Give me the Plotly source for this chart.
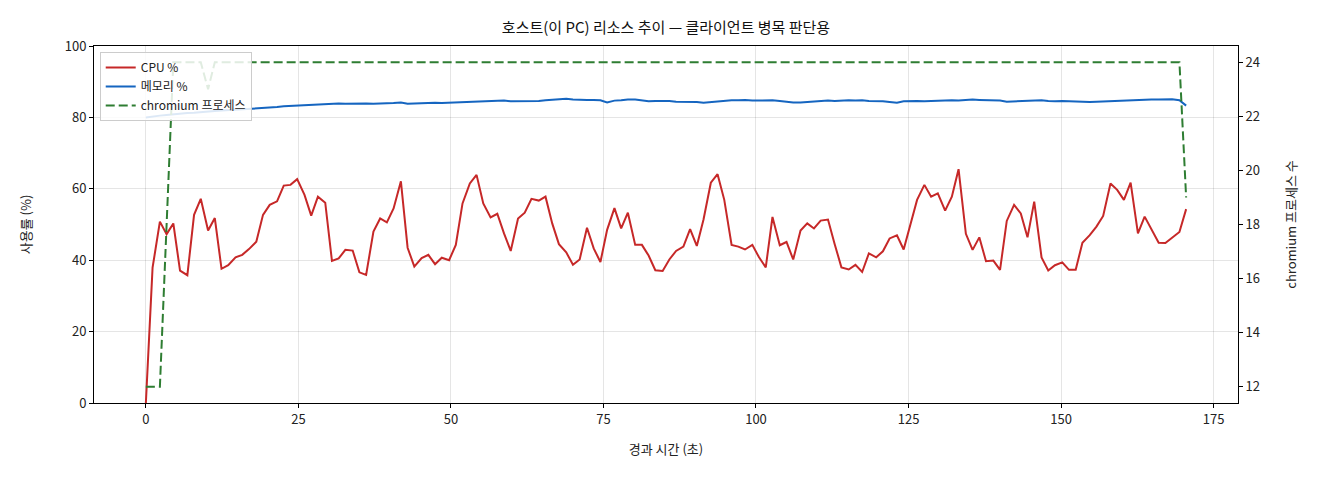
import plotly.graph_objects as go

# elapsed seconds for each sample
t = [0.0, 1.1, 2.3, 3.4, 4.5, 5.6, 6.8, 7.9, 9.0, 10.2, 11.3, 12.4, 13.5, 14.7, 15.8, 16.9,
     18.1, 19.2, 20.3, 21.5, 22.6, 23.7, 24.8, 26.0, 27.1, 28.2, 29.4, 30.5, 31.6, 32.7, 33.9,
     35.0, 36.1, 37.3, 38.4, 39.5, 40.6, 41.8, 42.9, 44.0, 45.2, 46.3, 47.4, 48.5, 49.7, 50.8,
     51.9, 53.1, 54.2, 55.3, 56.5, 57.6, 58.7, 59.8, 61.0, 62.1, 63.2, 64.4, 65.5, 66.6, 67.7,
     68.9, 70.0, 71.1, 72.3, 73.4, 74.5, 75.6, 76.8, 77.9, 79.0, 80.2, 81.3, 82.4, 83.5, 84.7,
     85.8, 86.9, 88.1, 89.2, 90.3, 91.4, 92.6, 93.7, 94.8, 96.0, 97.1, 98.2, 99.4, 100.5, 101.6,
     102.7, 103.9, 105.0, 106.1, 107.3, 108.4, 109.5, 110.6, 111.8, 112.9, 114.0, 115.2, 116.3,
     117.4, 118.5, 119.7, 120.8, 121.9, 123.1, 124.2, 125.3, 126.4, 127.6, 128.7, 129.8, 131.0,
     132.1, 133.2, 134.4, 135.5, 136.6, 137.7, 138.9, 140.0, 141.1, 142.3, 143.4, 144.5, 145.6,
     146.8, 147.9, 149.0, 150.2, 151.3, 152.4, 153.5, 154.7, 155.8, 156.9, 158.1, 159.2, 160.3,
     161.4, 162.6, 163.7, 164.8, 166.0, 167.1, 168.2, 169.4, 170.5]

cpu = [0.0, 37.9, 50.8, 47.3, 50.3, 37.1, 35.8, 52.7, 57.2, 48.3, 51.8, 37.6, 38.6, 40.8, 41.5,
       43.1, 45.2, 52.7, 55.5, 56.5, 60.9, 61.1, 62.7, 58.3, 52.5, 57.8, 56.1, 39.8, 40.5, 42.9,
       42.7, 36.6, 35.9, 48.0, 51.7, 50.6, 54.5, 62.1, 43.5, 38.2, 40.6, 41.5, 38.9, 40.7, 40.0,
       44.3, 55.9, 61.5, 63.9, 55.9, 52.0, 53.0, 47.5, 42.6, 51.7, 53.3, 57.2, 56.7, 57.8, 50.3,
       44.5, 42.2, 38.7, 40.2, 49.1, 43.3, 39.5, 48.5, 54.6, 48.9, 53.3, 44.3, 44.3, 41.3, 37.2,
       37.0, 40.2, 42.6, 43.8, 48.7, 44.0, 51.4, 61.7, 64.1, 56.9, 44.3, 43.8, 43.0, 44.3, 40.8,
       38.0, 52.1, 44.2, 45.1, 40.2, 48.3, 50.3, 48.9, 51.1, 51.4, 44.5, 38.0, 37.4, 38.7, 36.7,
       41.9, 40.8, 42.5, 46.1, 47.0, 43.0, 49.8, 56.9, 61.1, 57.8, 58.7, 53.9, 57.8, 65.5, 47.4,
       42.9, 46.4, 39.7, 39.9, 37.3, 51.0, 55.5, 53.1, 46.4, 56.4, 40.8, 37.1, 38.6, 39.4, 37.3,
       37.3, 44.9, 47.0, 49.4, 52.4, 61.5, 59.7, 56.9, 61.7, 47.5, 52.2, 48.9, 44.9, 44.8, 46.4,
       47.9, 54.3]

mem = [80.0, 80.3, 80.5, 80.7, 80.9, 81.0, 81.2, 81.3, 81.5, 81.6, 81.8, 81.9, 82.0, 82.1, 82.2,
       82.3, 82.4, 82.5, 82.7, 82.9, 83.1, 83.2, 83.4, 83.6, 83.6, 83.7, 83.8, 83.9, 83.9, 83.8,
       83.9, 83.8, 83.9, 83.8, 83.8, 83.9, 84.0, 84.2, 83.8, 83.9, 84.0, 84.1, 84.1, 84.0, 84.1,
       84.2, 84.3, 84.4, 84.4, 84.5, 84.5, 84.6, 84.7, 84.5, 84.5, 84.5, 84.4, 84.6, 84.8, 84.9,
       85.1, 85.2, 85.0, 84.9, 84.9, 84.9, 84.8, 84.2, 84.7, 84.8, 85.0, 85.0, 84.8, 84.5, 84.6,
       84.7, 84.6, 84.4, 84.4, 84.5, 84.3, 84.1, 84.3, 84.6, 84.8, 84.8, 84.8, 84.9, 84.7, 84.8,
       84.9, 84.8, 84.6, 84.4, 84.2, 84.2, 84.3, 84.6, 84.6, 84.7, 84.6, 84.7, 84.8, 84.7, 84.8,
       84.6, 84.6, 84.5, 84.3, 84.1, 84.5, 84.6, 84.6, 84.5, 84.6, 84.5, 84.7, 84.8, 84.7, 84.9,
       85.0, 84.9, 84.9, 84.9, 84.7, 84.4, 84.5, 84.6, 84.7, 84.8, 84.8, 84.6, 84.5, 84.6, 84.5,
       84.4, 84.4, 84.3, 84.4, 84.5, 84.4, 84.5, 84.7, 84.9, 85.0, 85.0, 85.0, 85.0, 85.0, 85.1,
       84.8, 83.3]

chromium = [12, 12, 12, 18, 24, 24, 24, 24, 24, 23] + [24] * 141 + [19]

x_ticks = [0, 25, 50, 75, 100, 125, 150, 175]
y_ticks = [0, 20, 40, 60, 80, 100]
y2_ticks = [12, 14, 16, 18, 20, 22, 24]

FONT = "Noto Sans CJK KR"

fig = go.Figure()
fig.add_trace(go.Scatter(x=t, y=cpu, mode="lines", name="CPU %",
                         line=dict(color="#c62828", width=2)))
fig.add_trace(go.Scatter(x=t, y=mem, mode="lines", name="메모리 %",
                         line=dict(color="#1565c0", width=2)))
fig.add_trace(go.Scatter(x=t, y=chromium, mode="lines", name="chromium 프로세스",
                         line=dict(color="#2e7d32", width=2, dash="9px,4px"), yaxis="y2"))

def axis_style(**extra):
    d = dict(showline=True, linecolor="black", linewidth=1,
             ticks="outside", ticklen=4, tickcolor="black", automargin=False,
             tickfont=dict(size=13, color="#222", family=FONT), zeroline=False)
    d.update(extra)
    return d

fig.update_layout(
    width=1320, height=480,
    margin=dict(l=86, r=90, t=38, b=85),
    paper_bgcolor="white", plot_bgcolor="white",
    font=dict(family=FONT, color="#222"),
    title=dict(text="호스트(이 PC) 리소스 추이 — 클라이언트 병목 판단용",
               x=0.5, xanchor="center", y=0.958, yanchor="middle",
               xref="paper", font=dict(size=15, family=FONT, color="#111")),
    xaxis=axis_style(range=[-8.5, 179], tickvals=x_ticks, showgrid=True,
                     gridcolor="rgba(0,0,0,0.1)", gridwidth=1, mirror=True,
                     title=dict(text="경과 시간 (초)", font=dict(size=13, family=FONT),
                                standoff=18)),
    yaxis=axis_style(range=[0, 100], tickvals=y_ticks, showgrid=True,
                     gridcolor="rgba(0,0,0,0.1)", gridwidth=1,
                     title=dict(text="사용률 (%)", font=dict(size=13, family=FONT),
                                standoff=30)),
    yaxis2=axis_style(overlaying="y", side="right", range=[11.4, 24.6], tickvals=y2_ticks,
                      showgrid=False,
                      title=dict(text="chromium 프로세스 수", font=dict(size=13, family=FONT),
                                 standoff=27)),
    legend=dict(x=0.005, y=0.983, xanchor="left", yanchor="top",
                bgcolor="rgba(255,255,255,0.85)", bordercolor="#ccc", borderwidth=1,
                font=dict(size=12, family=FONT, color="#222"), tracegroupgap=0,
                itemwidth=30),
    showlegend=True,
)

fig.write_html("out.html")
